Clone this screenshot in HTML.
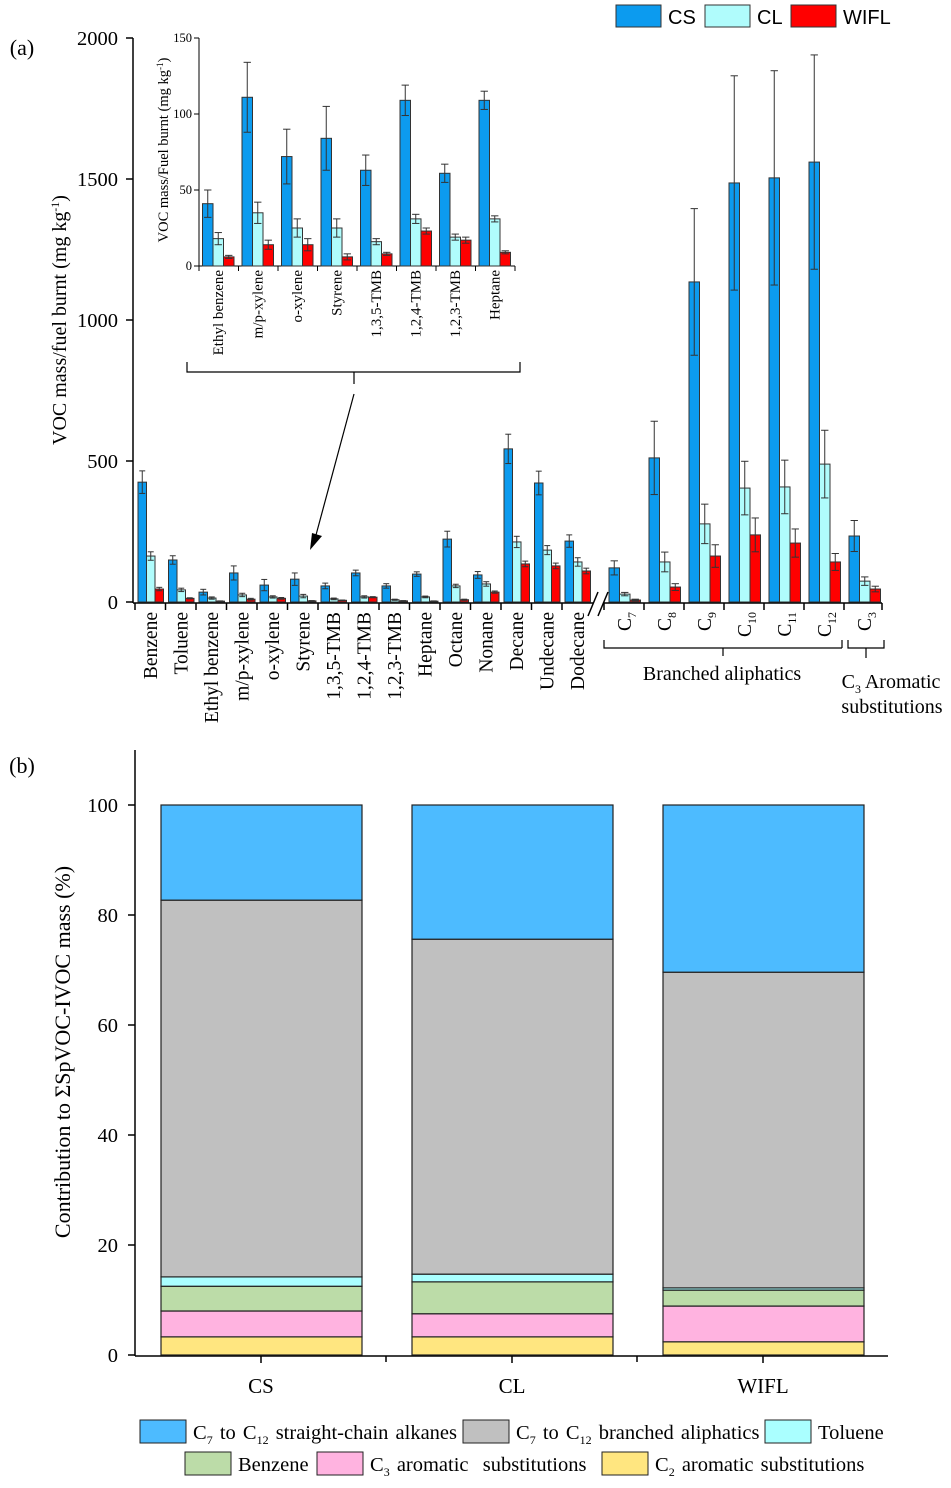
<!DOCTYPE html>
<html><head><meta charset="utf-8"><style>
body{margin:0;background:#fff}
svg text{font-family:"Liberation Serif",serif;fill:#000}
</style></head><body>
<svg id="s" width="951" height="1483" viewBox="0 0 951 1483" xmlns="http://www.w3.org/2000/svg"></svg>
<script>
// ---- Panel (a) data ----
const catsA = ["Benzene","Toluene","Ethyl benzene","m/p-xylene","o-xylene","Styrene","1,3,5-TMB","1,2,4-TMB","1,2,3-TMB","Heptane","Octane","Nonane","Decane","Undecane","Dodecane"];
const csA = [425,149,35,103,60,81,57,103,57,99,223,96,543,422,216];
const clA = [163,43,14,25,18,21,11,18,8,18,57,64,213,184,142];
const wiA = [46,13,3,10,13,4,6,17,4,3,8,35,135,128,110];
const csAe = [40,15,10,25,20,22,10,10,8,8,28,12,52,42,22];
const clAe = [15,6,4,6,4,6,3,4,2,3,6,8,20,16,15];
const wiAe = [6,2,1,3,3,1,1,2,1,1,2,4,10,10,10];
const catsB = ["7","8","9","10","11","12","3"];
const csB = [121,511,1135,1486,1504,1560,234];
const clB = [28,142,277,404,408,489,74];
const wiB = [7,53,163,238,209,142,46];
const csBe = [25,130,260,380,380,380,55];
const clBe = [6,35,70,95,95,120,15];
const wiBe = [3,12,40,60,50,30,10];
const yTicksA = [0,500,1000,1500,2000];
// inset
const catsI = ["Ethyl benzene","m/p-xylene","o-xylene","Styrene","1,3,5-TMB","1,2,4-TMB","1,2,3-TMB","Heptane"];
const csI = [41,111,72,84,63,109,61,109];
const clI = [18,35,25,25,16,31,19,31];
const wiI = [6,14,14,6,8,23,17,9];
const csIe = [9,23,18,21,10,10,6,6];
const clIe = [4,7,6,6,2,3,2,2];
const wiIe = [1,3,4,2,1,2,2,1];
const yTicksI = [0,50,100,150];
// ---- Panel (b) data ----
const samples = ["CS","CL","WIFL"];
const c2 = [3.3,3.3,2.4];
const c3 = [4.7,4.2,6.5];
const benz = [4.5,5.8,2.9];
const tol = [1.7,1.4,0.4];
const branched = [68.5,60.9,57.4];
const straight = [17.3,24.4,30.4];
const yTicksB = [0,20,40,60,80,100];

const S = document.getElementById('s');
const NS = "http://www.w3.org/2000/svg";
function el(tag, attrs, parent){const e=document.createElementNS(NS,tag);for(const k in attrs)e.setAttribute(k,attrs[k]);(parent||S).appendChild(e);return e;}
function txt(x,y,str,size,anchor,rot,parent){const t=el('text',{x:x,y:y,'font-size':size,'text-anchor':anchor||'middle'},parent);if(rot)t.setAttribute('transform',`rotate(${rot} ${x} ${y})`);t.textContent=str;return t;}
const CS='#0c9bef', CL='#b0fcfc', WI='#ff0000';

// ---------- Panel (a) ----------
const ya = v => 602 - v*0.282;
const gA = el('g',{});


txt(22,55,"(a)",22,'middle',0,gA);
el('line',{x1:133,y1:38,x2:133,y2:603,stroke:'#000','stroke-width':1.5},gA);
el('line',{x1:133,y1:603,x2:593,y2:603,stroke:'#000','stroke-width':1.5},gA);
el('line',{x1:604,y1:603,x2:882,y2:603,stroke:'#000','stroke-width':1.5},gA);
yTicksA.forEach(v=>{el('line',{x1:126,y1:ya(v),x2:133,y2:ya(v),stroke:'#000','stroke-width':1.5},gA);
 const t=txt(118,ya(v)+7,String(v),20.5,'end',0,gA);});
const yl=txt(66,320,"",20,'middle',-90,gA);

yl.innerHTML='VOC mass/fuel burnt (mg kg<tspan dy="-7" font-size="12">-1</tspan><tspan dy="7">)</tspan>';
function bar(x,w,v,e,col,yf,g,name){
  const r=el('rect',{x:x,y:yf(v),width:w,height:yf(0)-yf(v),fill:col,stroke:'#333','stroke-width':1},g);
  
  const cx=x+w/2;
  el('line',{x1:cx,y1:yf(v+e),x2:cx,y2:yf(Math.max(v-e,0)),stroke:'#333','stroke-width':1},g);
  el('line',{x1:cx-w*0.35,y1:yf(v+e),x2:cx+w*0.35,y2:yf(v+e),stroke:'#333','stroke-width':1},g);
  el('line',{x1:cx-w*0.35,y1:yf(Math.max(v-e,0)),x2:cx+w*0.35,y2:yf(Math.max(v-e,0)),stroke:'#333','stroke-width':1},g);
}
catsA.forEach((c,i)=>{const s=135+30.5*i;
 el('line',{x1:s,y1:603,x2:s,y2:610,stroke:'#000','stroke-width':1.5},gA);
 bar(s+3,8.5,csA[i],csAe[i],CS,ya,gA,'bar-cs');
 bar(s+11.5,8.5,clA[i],clAe[i],CL,ya,gA,'bar-cl');
 bar(s+20,8.5,wiA[i],wiAe[i],WI,ya,gA,'bar-wifl');
 const t=txt(s+22,612,c,19.5,'end',-90,gA);
});
el('line',{x1:588,y1:616,x2:598,y2:592,stroke:'#000','stroke-width':1.5},gA);
el('line',{x1:598,y1:616,x2:608,y2:592,stroke:'#000','stroke-width':1.5},gA);
catsB.forEach((c,i)=>{const s=604+40*i;
 el('line',{x1:s,y1:603,x2:s,y2:610,stroke:'#000','stroke-width':1.5},gA);
 bar(s+5,10.5,csB[i],csBe[i],CS,ya,gA,'bar-cs');
 bar(s+15.5,10.5,clB[i],clBe[i],CL,ya,gA,'bar-cl');
 bar(s+26,10.5,wiB[i],wiBe[i],WI,ya,gA,'bar-wifl');
 const t=el('text',{x:s+27,y:612,'font-size':19.5,'text-anchor':'end',transform:`rotate(-90 ${s+27} 612)`},gA);
 
 t.innerHTML=`C<tspan font-size="12" dy="5">${c}</tspan>`;
});
el('line',{x1:882,y1:603,x2:882,y2:610,stroke:'#000','stroke-width':1.5},gA);
el('path',{d:'M604,640 v8 h238 M723,648 v8 M842,640 v8',fill:'none',stroke:'#000','stroke-width':1.2},gA);
el('path',{d:'M848,640 v8 h36 v-8 M866,648 v10',fill:'none',stroke:'#000','stroke-width':1.2},gA);
txt(722,680,"Branched aliphatics",20,'middle',0,gA);
const c3l=el('text',{x:891,y:688,'font-size':20,'text-anchor':'middle'},gA);c3l.innerHTML='C<tspan font-size="12" dy="5">3</tspan><tspan dy="-5"> Aromatic</tspan>';
txt(892,713,"substitutions",20,'middle',0,gA);
el('path',{d:'M187,362 v10 h333 v-10 M354,372 v12',fill:'none',stroke:'#000','stroke-width':1.2},gA);
el('line',{x1:354,y1:394,x2:316,y2:535,stroke:'#000','stroke-width':1.2},gA);
el('path',{d:'M310,550 L312,533 L322,536 Z',fill:'#000'},gA);
// legend
const lg=el('g',{},gA);
[[CS,'CS',616],[CL,'CL',705],[WI,'WIFL',791]].forEach(([c,n,x])=>{
 const r=el('rect',{x:x,y:5,width:45,height:22,fill:c,stroke:'#333'},lg);
 const t=el('text',{x:x+52,y:24,'font-size':20,style:'font-family:"Liberation Sans",sans-serif'},lg);t.textContent=n;
});
// inset
const yi = v => 266 - v*1.52;
const gI=el('g',{},gA);
el('line',{x1:199,y1:38,x2:199,y2:266,stroke:'#000','stroke-width':1},gI);
el('line',{x1:199,y1:266,x2:515,y2:266,stroke:'#000','stroke-width':1},gI);
yTicksI.forEach(v=>{el('line',{x1:194,y1:yi(v),x2:199,y2:yi(v),stroke:'#000'},gI);txt(192,yi(v)+4,String(v),12.5,'end',0,gI);});
const iyl=txt(168,150,"",14.5,'middle',-90,gI);
iyl.innerHTML='VOC mass/Fuel burnt (mg kg<tspan dy="-5" font-size="9">-1</tspan><tspan dy="5">)</tspan>';
catsI.forEach((c,i)=>{const s=199+39.5*i;
 el('line',{x1:s,y1:266,x2:s,y2:271,stroke:'#000'},gI);
 bar(s+3.5,10.5,csI[i],csIe[i],CS,yi,gI,'inset-bar-cs');
 bar(s+14,10.5,clI[i],clIe[i],CL,yi,gI,'inset-bar-cl');
 bar(s+24.5,10.5,wiI[i],wiIe[i],WI,yi,gI,'inset-bar-wifl');
 txt(s+24,270,c,15,'end',-90,gI);
});
el('line',{x1:515,y1:266,x2:515,y2:271,stroke:'#000'},gI);

// ---------- Panel (b) ----------
const yb = v => 1355 - v*5.5;
const gB=el('g',{});
txt(22,773,"(b)",22,'middle',0,gB);
el('line',{x1:135,y1:750,x2:135,y2:1356,stroke:'#000','stroke-width':1.5},gB);
el('line',{x1:135,y1:1356,x2:888,y2:1356,stroke:'#000','stroke-width':1.5},gB);
yTicksB.forEach(v=>{el('line',{x1:128,y1:yb(v),x2:135,y2:yb(v),stroke:'#000','stroke-width':1.5},gB);
 const t=txt(118,yb(v)+7,String(v),20.5,'end',0,gB);});
const byl=txt(70,1052,"Contribution to ΣSpVOC-IVOC mass (%)",22,'middle',-90,gB);

const series=[[c2,'#ffe680','c2-aromatic'],[c3,'#ffb3e0','c3-aromatic'],[benz,'#bcdca8','benzene'],[tol,'#aaffff','toluene'],[branched,'#c0c0c0','branched-aliphatics'],[straight,'#4dbbff','straight-alkanes']];
samples.forEach((s,i)=>{const x=161+251*i;let acc=0;
 series.forEach(([arr,col,nm])=>{const r=el('rect',{x:x,y:yb(acc+arr[i]),width:201,height:arr[i]*5.5,fill:col,stroke:'#222','stroke-width':1.2},gB);
  acc+=arr[i];});
 el('line',{x1:x+100,y1:1356,x2:x+100,y2:1363,stroke:'#000','stroke-width':1.5},gB);
 const t=txt(x+100,1393,s,21,'middle',0,gB);
});
[386,637].forEach(x=>el('line',{x1:x,y1:1356,x2:x,y2:1362,stroke:'#000','stroke-width':1.5},gB));
const lb=el('g',{},gB);
const lbItems=[[140,1420,'#4dbbff','C<tspan font-size="12" dy="5">7</tspan><tspan dy="-5"> to C</tspan><tspan font-size="12" dy="5">12</tspan><tspan dy="-5"> straight-chain alkanes</tspan>'],
 [463,1420,'#c0c0c0','C<tspan font-size="12" dy="5">7</tspan><tspan dy="-5"> to C</tspan><tspan font-size="12" dy="5">12</tspan><tspan dy="-5"> branched aliphatics</tspan>'],
 [765,1420,'#aaffff','Toluene'],
 [185,1452,'#bcdca8','Benzene'],
 [317,1452,'#ffb3e0','C<tspan font-size="12" dy="5">3</tspan><tspan dy="-5" xml:space="preserve"> aromatic  substitutions</tspan>'],
 [602,1452,'#ffe680','C<tspan font-size="12" dy="5">2</tspan><tspan dy="-5"> aromatic substitutions</tspan>']];
lbItems.forEach(([x,y,c,h])=>{const r=el('rect',{x:x,y:y,width:46,height:23,fill:c,stroke:'#222'},lb);
 const t=el('text',{x:x+53,y:y+19,'font-size':20.5,'word-spacing':2},lb);t.innerHTML=h;});
</script>
</body></html>
